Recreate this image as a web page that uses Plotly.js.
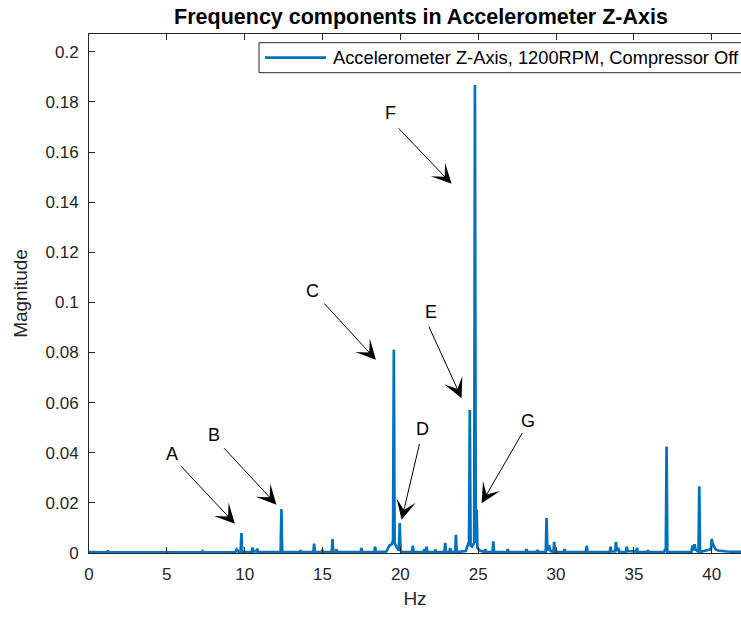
<!DOCTYPE html>
<html>
<head>
<meta charset="utf-8">
<script src="https://cdn.plot.ly/plotly-3.0.1.min.js"></script>
<style>html,body{margin:0;padding:0;background:#fff;}#chart{width:741px;height:619px;}</style>
</head>
<body>
<div id="chart"></div>
<script>
// Spectrum (Hz, magnitude)
const hz = [0.00,1.15,1.20,1.25,5.00,7.25,7.30,7.35,9.40,9.50,9.60,9.74,9.79,9.84,10.45,10.50,10.55,10.75,10.80,10.85,
  12.31,12.36,12.41,13.55,13.60,13.65,14.41,14.46,14.51,14.95,15.00,15.05,15.59,15.64,15.69,15.85,15.90,15.95,
  17.45,17.50,17.55,18.33,18.38,18.43,19.10,19.30,19.45,19.53,19.58,19.63,19.75,19.90,19.96,20.01,20.10,
  20.75,20.80,20.85,21.50,21.55,21.60,21.63,21.68,21.73,22.20,22.25,22.30,22.83,22.88,22.93,23.15,23.20,23.25,
  23.52,23.57,23.62,24.20,24.35,24.41,24.46,24.51,24.60,24.74,24.79,24.84,24.90,24.95,25.10,25.40,25.45,25.50,
  25.92,25.97,26.02,26.85,26.90,26.95,28.05,28.10,28.15,28.75,28.80,28.85,29.34,29.39,29.44,29.55,29.65,
  29.83,29.88,29.93,30.50,30.55,30.60,31.92,31.97,32.02,33.45,33.50,33.55,33.80,33.85,33.90,34.00,34.05,
  34.49,34.54,34.59,35.15,35.20,35.25,35.85,35.90,35.95,36.95,37.00,37.05,37.10,37.15,38.70,38.75,38.80,
  38.90,38.95,39.15,39.20,39.25,39.50,39.95,40.00,40.05,40.15,40.25,40.40,40.60,41.00,41.50,42.00];
const magnitude = [0.0004,0.0003,0.0009,0.0003,0.0003,0.0003,0.0007,0.0003,0.0004,0.0014,0.0005,0.0004,0.0080,0.0004,0.0004,0.0022,0.0006,0.0006,0.0018,0.0004,
  0.0004,0.0175,0.0004,0.0004,0.0010,0.0004,0.0004,0.0037,0.0004,0.0004,0.0012,0.0004,0.0004,0.0056,0.0004,0.0004,0.0015,0.0004,
  0.0004,0.0020,0.0004,0.0004,0.0025,0.0004,0.0006,0.0030,0.0035,0.0050,0.0811,0.0040,0.0025,0.0010,0.0120,0.0010,0.0005,
  0.0004,0.0029,0.0004,0.0005,0.0015,0.0005,0.0004,0.0025,0.0004,0.0004,0.0013,0.0004,0.0004,0.0040,0.0004,0.0005,0.0020,0.0005,
  0.0004,0.0073,0.0004,0.0008,0.0030,0.0045,0.0571,0.0030,0.0025,0.0040,0.1867,0.0040,0.0173,0.0020,0.0010,0.0004,0.0015,0.0004,
  0.0004,0.0046,0.0004,0.0004,0.0015,0.0004,0.0004,0.0015,0.0004,0.0004,0.0012,0.0004,0.0004,0.0140,0.0010,0.0030,0.0008,
  0.0004,0.0044,0.0004,0.0004,0.0015,0.0004,0.0004,0.0029,0.0004,0.0004,0.0025,0.0006,0.0006,0.0044,0.0008,0.0020,0.0004,
  0.0004,0.0025,0.0008,0.0006,0.0020,0.0004,0.0004,0.0010,0.0004,0.0005,0.0015,0.0005,0.0425,0.0004,0.0004,0.0030,0.0010,
  0.0035,0.0015,0.0004,0.0266,0.0004,0.0008,0.0015,0.0056,0.0040,0.0025,0.0015,0.0010,0.0008,0.0006,0.0005,0.0004];
const seriesName = "Accelerometer Z-Axis, 1200RPM, Compressor Off";

// Annotated components: label, arrow head (Hz, mag), arrow tail (Hz, mag), label position (Hz, mag)
const labels = ["A","B","C","D","E","F","G"];
const headHz = [9.37,12.04,18.43,20.08,23.93,23.29,25.22];
const headMag = [0.0117,0.0193,0.0771,0.0133,0.0618,0.1473,0.0199];
const tailHz = [5.83,8.59,15.02,21.25,21.79,19.79,27.89];
const tailMag = [0.0352,0.0424,0.1002,0.0441,0.0909,0.1701,0.0485];
const textHz = [5.31,8.01,14.38,21.44,21.96,19.39,28.19];
const textMag = [0.0396,0.0472,0.1046,0.0493,0.0962,0.1757,0.0528];

const xTicks = [0,5,10,15,20,25,30,35,40];
const yTicks = [0,0.02,0.04,0.06,0.08,0.1,0.12,0.14,0.16,0.18,0.2];

const FONT = "Liberation Sans, Arial, Helvetica, sans-serif";
const AX = "#262626";
const BLUE = "#0072BD";

// plot-area geometry in px (for legend box placement in paper coords)
const L = 89, T = 34, W = 652, H = 519;
const px = v => (v - L) / W;
const py = v => 1 - (v - T) / H;

const annotations = [];
labels.forEach((lab, i) => {
  annotations.push({
    x: headHz[i], y: headMag[i], xref: "x", yref: "y",
    ax: tailHz[i], ay: tailMag[i], axref: "x", ayref: "y",
    text: "", showarrow: true, arrowhead: 3, arrowsize: 3.3, arrowwidth: 1,
    arrowcolor: "#000", standoff: 0, startstandoff: 0
  });
  annotations.push({
    x: textHz[i], y: textMag[i], xref: "x", yref: "y",
    text: lab, showarrow: false, font: {family: FONT, size: 18, color: "#000"},
    xanchor: "center", yanchor: "middle"
  });
});
// legend text
annotations.push({
  x: px(331), y: py(57.7), xref: "paper", yref: "paper", text: seriesName,
  showarrow: false, xanchor: "left", yanchor: "middle",
  font: {family: FONT, size: 18.3, color: "#000"}
});

const shapes = [
  {type: "rect", xref: "paper", yref: "paper", x0: px(259), x1: px(760), y0: py(72.7), y1: py(42.7),
   line: {color: AX, width: 1}, fillcolor: "#fff", layer: "above"},
  {type: "line", xref: "paper", yref: "paper", x0: px(265), x1: px(326), y0: py(57.7), y1: py(57.7),
   line: {color: BLUE, width: 2.7}, layer: "above"}
];

const trace = {
  x: hz, y: magnitude, type: "scatter", mode: "lines",
  name: seriesName, showlegend: false,
  line: {color: BLUE, width: 2.7}
};

const layout = {
  width: 741, height: 619,
  margin: {l: L, r: 0, t: T, b: 619 - T - H, pad: 0},
  paper_bgcolor: "#fff", plot_bgcolor: "#fff",
  title: {text: "<b>Frequency components in Accelerometer Z-Axis</b>", font: {family: FONT, size: 21.5, color: "#000"},
    x: 421/741, xref: "container", xanchor: "center", y: 1 - 16/619, yref: "container", yanchor: "middle"},
  showlegend: false,
  xaxis: {
    range: [0, 41.88], tickvals: xTicks, ticktext: xTicks.map(String),
    ticks: "inside", ticklen: 6, tickcolor: AX, tickwidth: 1,
    showline: true, linecolor: AX, linewidth: 1, mirror: "ticks",
    showgrid: false, zeroline: false,
    tickfont: {family: FONT, size: 17, color: AX}, ticklabelstandoff: 6,
    title: {text: "Hz", font: {family: FONT, size: 19, color: AX}, standoff: 8},
    automargin: false
  },
  yaxis: {
    range: [0, 0.2071], tickvals: yTicks, ticktext: yTicks.map(String),
    ticks: "inside", ticklen: 6, tickcolor: AX, tickwidth: 1,
    showline: true, linecolor: AX, linewidth: 1, mirror: false,
    showgrid: false, zeroline: false,
    tickfont: {family: FONT, size: 17, color: AX}, ticklabelstandoff: 6,
    title: {text: "Magnitude", font: {family: FONT, size: 19, color: AX}, standoff: 12},
    automargin: false
  },
  shapes: shapes,
  annotations: annotations
};

Plotly.newPlot("chart", [trace], layout, {displayModeBar: false, staticPlot: true});
</script>
</body>
</html>
